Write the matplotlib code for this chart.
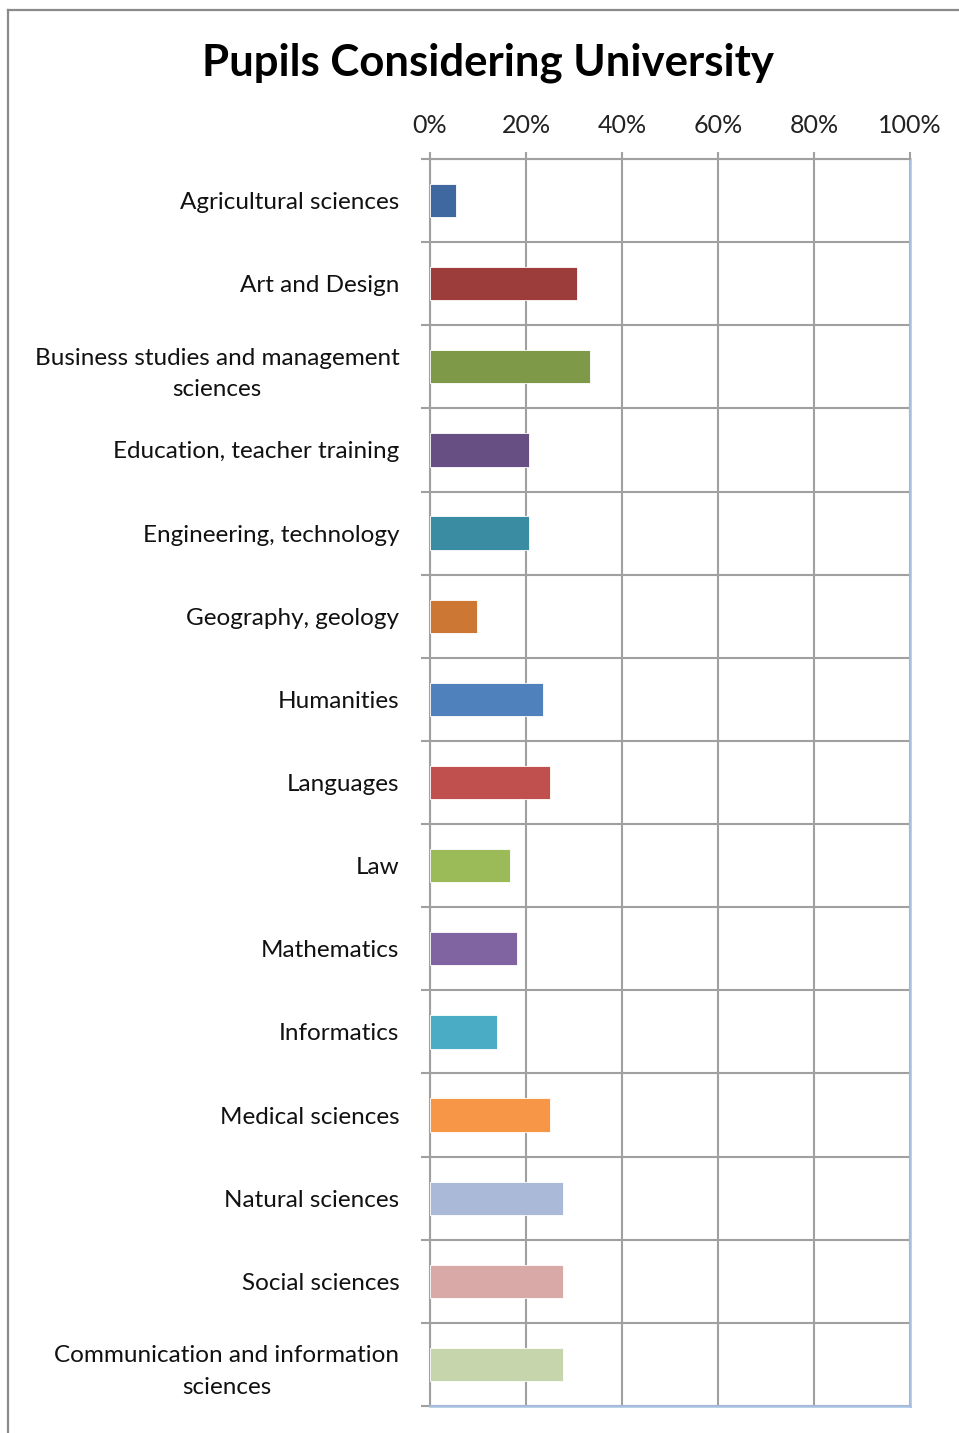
import matplotlib.pyplot as plt
import numpy as np
from matplotlib.ticker import FixedLocator, PercentFormatter
from matplotlib.lines import Line2D

subjects = [
    "Agricultural sciences",
    "Art and Design",
    "Business studies and management\nsciences",
    "Education, teacher training",
    "Engineering, technology",
    "Geography, geology",
    "Humanities",
    "Languages",
    "Law",
    "Mathematics",
    "Informatics",
    "Medical sciences",
    "Natural sciences",
    "Social sciences",
    "Communication and information\nsciences",
]
share = [5.4, 30.6, 33.3, 20.7, 20.7, 9.7, 23.6, 25.0, 16.7, 18.1, 13.9, 25.0, 27.8, 27.8, 27.8]
bar_colors = [
    "#3f68a0", "#9c3d3b", "#7e9a48", "#674f83", "#3a8ca3",
    "#cd7735", "#4f81bd", "#c0504d", "#9bbb59", "#8064a2",
    "#4bacc6", "#f79646", "#a9b9d7", "#d9a9a8", "#c6d5ac",
]
x_ticks = [0, 20, 40, 60, 80, 100]

plt.rcParams['font.family'] = ['Lato', 'DejaVu Sans']

W, H = 959, 1433
fig = plt.figure(figsize=(W / 100, H / 100), dpi=100)

# frame around the chart area (runs off the right and bottom edges)
fig.add_artist(Line2D([8 / W, 8 / W], [0, 1 - 10 / H], color="#8a8a8a", lw=1.6))
fig.add_artist(Line2D([8 / W, 1], [1 - 10 / H, 1 - 10 / H], color="#8a8a8a", lw=1.6))

left, right, top, bottom = 430, 910, 159, 1406
ax = fig.add_axes([left / W, 1 - bottom / H, (right - left) / W, (bottom - top) / H])

y = np.arange(len(subjects))
ax.barh(y, share, height=0.4, color=bar_colors, edgecolor="white", linewidth=0.6, zorder=3)

ax.set_xlim(0, 100)
ax.set_ylim(len(subjects) - 0.5, -0.5)

grid_c = "#a0a0a0"
ax.xaxis.set_major_locator(FixedLocator(x_ticks))
ax.xaxis.set_major_formatter(PercentFormatter(decimals=0))
ax.xaxis.tick_top()
ax.tick_params(axis="x", which="major", direction="out", length=5, width=1.5,
               color=grid_c, labelsize=18, pad=11, labelcolor="#222222")

ax.set_yticks(y)
ax.set_yticklabels(subjects, ha="right", multialignment="center", linespacing=1.6)
ax.yaxis.set_minor_locator(FixedLocator(np.arange(len(subjects) + 1) - 0.5))
ax.tick_params(axis="y", which="major", length=0, labelsize=17.5, pad=22, labelcolor="#111111")
ax.tick_params(axis="y", which="minor", direction="out", length=6.5, width=1.5, color=grid_c)

ax.grid(axis="x", which="major", color=grid_c, lw=1.5, zorder=1)
ax.grid(axis="y", which="minor", color=grid_c, lw=1.5, zorder=1)

for side in ["left", "top"]:
    ax.spines[side].set_color(grid_c)
    ax.spines[side].set_linewidth(1.5)
for side in ["right", "bottom"]:
    ax.spines[side].set_color("#a6c0e4")
    ax.spines[side].set_linewidth(1.8)

fig.text(488 / W, 1 - 63 / H, "Pupils Considering University", ha="center", va="center",
         fontsize=31.5, fontweight="bold", color="#000000")

fig.savefig("out.png", dpi=100, facecolor="white")
